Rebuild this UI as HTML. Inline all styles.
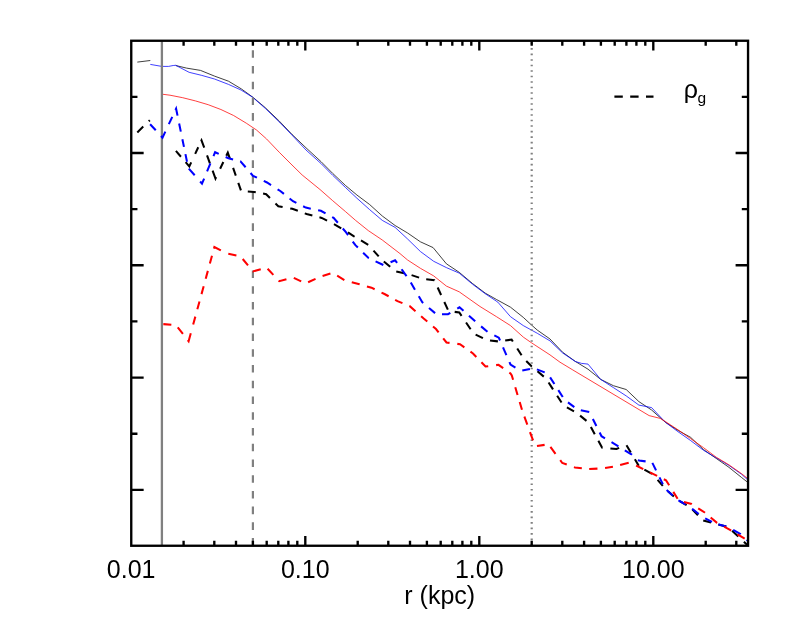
<!DOCTYPE html>
<html><head><meta charset="utf-8"><title>plot</title>
<style>
html,body{margin:0;padding:0;background:#fff;}
body{width:786px;height:629px;overflow:hidden;}
svg{display:block;will-change:transform;}
text{font-family:"Liberation Sans",sans-serif;fill:#000;}
</style></head><body>
<svg width="786" height="629" viewBox="0 0 786 629">
<rect width="786" height="629" fill="#fff"/>
<defs><clipPath id="c"><rect x="131.25" y="40.75" width="616.75" height="504.95000000000005"/></clipPath></defs>
<g fill="none" stroke-linejoin="round" clip-path="url(#c)">
<polyline points="137.3,62.1 150.3,60.5" stroke="#000" stroke-width="0.75"/>
<polyline points="175.7,65.5 186.5,68.1 200.5,70.4 214.5,76.1 228.5,81.2 241.2,88.8 252.7,97.1 265.3,107.7 279.3,121.1 292.0,134.4 306.0,147.8 321.2,161.8 332.7,173.4 345.4,185.4 356.9,195.0 369.6,204.5 382.3,216.0 395.1,225.5 407.6,233.0 420.4,241.8 433.1,247.6 446.4,263.8 459.2,272.3 472.5,283.5 485.2,293.1 496.5,299.5 510.5,307.2 523.3,317.4 531.5,325.0 537.3,330.1 550.0,339.0 562.7,352.3 575.3,361.4 588.0,369.2 600.7,379.4 613.4,385.7 626.2,389.5 638.9,401.6 651.6,410.0 665.3,422.2 678.0,430.4 690.7,437.4 703.4,449.5 716.2,458.4 728.9,467.3 741.6,477.5 748.0,482.6" stroke="#000" stroke-width="0.75"/>
<polyline points="150.3,64.4 161.8,66.4 168.6,66.4 173.2,65.5 175.7,65.3 189.1,72.3 201.8,75.4 214.5,79.0 228.5,84.4 241.2,90.1 252.7,97.3 265.3,108.4 279.3,122.0 292.0,135.1 306.0,150.0 321.2,163.7 332.7,175.3 345.4,187.4 356.9,198.2 369.6,209.6 382.3,220.4 395.1,227.4 407.6,239.0 420.4,251.5 433.7,261.3 446.4,267.6 459.2,273.1 472.5,284.2 485.2,293.7 497.8,302.1 510.5,316.7 523.3,325.6 531.5,330.1 537.3,333.3 550.0,340.9 562.7,353.0 575.3,361.5 581.6,363.4 588.0,364.1 600.7,379.4 613.4,387.6 626.2,395.9 638.9,405.1 651.6,407.6 665.3,422.2 678.0,431.7 690.7,440.6 703.4,450.2 716.2,457.8 728.9,465.4 741.6,474.3 748.0,480.1" stroke="#00f" stroke-width="0.75"/>
<polyline points="163.0,94.3 170.0,95.2 182.7,97.7 195.4,100.9 208.2,104.7 220.9,109.5 233.6,115.5 246.3,123.2 256.5,130.0 266.5,138.9 279.3,152.3 292.0,165.0 302.2,175.0 320.0,189.5 332.7,200.7 345.4,211.5 355.6,220.4 368.3,230.6 382.3,240.0 400.0,253.6 407.6,260.0 420.4,268.3 433.7,275.9 446.4,286.1 459.2,291.8 480.0,306.5 496.5,316.7 510.5,325.6 523.3,337.1 531.5,342.8 550.0,354.9 560.0,362.2 572.9,370.0 649.1,415.6 660.2,418.4 665.3,421.5 678.0,429.8 690.7,438.7 703.4,447.6 716.2,457.2 728.9,464.8 741.6,473.7 748.0,478.8" stroke="#f00" stroke-width="0.75"/>
</g>
<line x1="161.9" y1="40.75" x2="161.9" y2="545.7" stroke="#808080" stroke-width="2.3"/>
<line x1="252.9" y1="545.7" x2="252.9" y2="40.75" stroke="#808080" stroke-width="2.2" stroke-dasharray="7.6 8.14"/>
<line x1="531.7" y1="545.7" x2="531.7" y2="40.75" stroke="#808080" stroke-width="2.2" stroke-dasharray="1.6 3.911"/>
<g fill="none" stroke-linejoin="miter" clip-path="url(#c)">
<polyline points="137.30,132.40 149.80,120.20" stroke="#000" stroke-width="2.05" stroke-dasharray="8.30 7.70"/>
<polyline points="175.90,150.90 185.60,162.12" stroke="#000" stroke-width="2.05" stroke-dasharray="7.70 7.14"/>
<polyline points="185.60,162.12 189.30,166.40 195.18,153.81" stroke="#000" stroke-width="2.05" stroke-dasharray="10.14 9.41"/>
<polyline points="195.18,153.81 201.10,141.15" stroke="#000" stroke-width="2.05" stroke-dasharray="7.25 6.73"/>
<polyline points="201.10,141.15 201.50,140.30 207.04,155.42" stroke="#000" stroke-width="2.05" stroke-dasharray="8.84 8.20"/>
<polyline points="207.04,155.42 212.60,170.60" stroke="#000" stroke-width="2.05" stroke-dasharray="8.39 7.78"/>
<polyline points="212.60,170.60 215.50,178.50 220.13,168.74" stroke="#000" stroke-width="2.05" stroke-dasharray="9.97 9.25"/>
<polyline points="220.13,168.74 226.30,155.76" stroke="#000" stroke-width="2.05" stroke-dasharray="7.45 6.92"/>
<polyline points="226.30,155.76 227.80,152.60 233.11,167.88" stroke="#000" stroke-width="2.05" stroke-dasharray="10.21 9.47"/>
<polyline points="233.11,167.88 238.30,182.86" stroke="#000" stroke-width="2.05" stroke-dasharray="8.22 7.63"/>
<polyline points="238.30,182.86 241.20,191.20 247.79,191.56" stroke="#000" stroke-width="2.05" stroke-dasharray="8.01 7.43"/>
<polyline points="247.79,191.56 254.10,191.90 263.08,193.61" stroke="#000" stroke-width="2.05" stroke-dasharray="8.02 7.44"/>
<polyline points="263.08,193.61 266.20,194.20 275.49,203.41" stroke="#000" stroke-width="2.05" stroke-dasharray="8.43 7.82"/>
<polyline points="275.49,203.41 278.30,206.20 290.23,208.42" stroke="#000" stroke-width="2.05" stroke-dasharray="8.35 7.75"/>
<polyline points="290.23,208.42 292.30,208.80 304.79,213.34" stroke="#000" stroke-width="2.05" stroke-dasharray="7.98 7.40"/>
<polyline points="304.79,213.34 306.60,214.00 319.45,217.32" stroke="#000" stroke-width="2.05" stroke-dasharray="7.88 7.31"/>
<polyline points="319.45,217.32 321.70,217.90 333.96,224.18" stroke="#000" stroke-width="2.05" stroke-dasharray="8.35 7.75"/>
<polyline points="333.96,224.18 334.00,224.20 346.00,231.20 347.95,232.44" stroke="#000" stroke-width="2.05" stroke-dasharray="8.43 7.82"/>
<polyline points="347.95,232.44 354.00,236.30 360.99,240.49" stroke="#000" stroke-width="2.05" stroke-dasharray="7.95 7.38"/>
<polyline points="360.99,240.49 368.50,245.00 373.51,250.59" stroke="#000" stroke-width="2.05" stroke-dasharray="8.44 7.83"/>
<polyline points="373.51,250.59 381.50,259.50 383.82,261.44" stroke="#000" stroke-width="2.05" stroke-dasharray="7.78 7.21"/>
<polyline points="383.82,261.44 395.50,271.20 396.28,271.39" stroke="#000" stroke-width="2.05" stroke-dasharray="8.31 7.71"/>
<polyline points="396.28,271.39 410.50,274.80 411.58,275.15" stroke="#000" stroke-width="2.05" stroke-dasharray="8.18 7.59"/>
<polyline points="411.58,275.15 423.40,279.00 426.22,279.34" stroke="#000" stroke-width="2.05" stroke-dasharray="7.92 7.35"/>
<polyline points="426.22,279.34 434.30,280.30 437.65,287.55" stroke="#000" stroke-width="2.05" stroke-dasharray="8.36 7.76"/>
<polyline points="437.65,287.55 444.32,301.97" stroke="#000" stroke-width="2.05" stroke-dasharray="8.25 7.65"/>
<polyline points="444.32,301.97 448.50,311.00 454.68,311.86" stroke="#000" stroke-width="2.05" stroke-dasharray="8.40 7.79"/>
<polyline points="454.68,311.86 459.30,312.50 466.07,322.51" stroke="#000" stroke-width="2.05" stroke-dasharray="8.69 8.06"/>
<polyline points="466.07,322.51 473.50,333.50 475.62,334.55" stroke="#000" stroke-width="2.05" stroke-dasharray="8.11 7.52"/>
<polyline points="475.62,334.55 487.00,340.20 490.02,340.53" stroke="#000" stroke-width="2.05" stroke-dasharray="8.16 7.57"/>
<polyline points="490.02,340.53 499.00,341.50 505.18,340.57" stroke="#000" stroke-width="2.05" stroke-dasharray="7.93 7.36"/>
<polyline points="505.18,340.57 511.60,339.60 517.24,348.46" stroke="#000" stroke-width="2.05" stroke-dasharray="8.82 8.18"/>
<polyline points="517.24,348.46 523.50,358.30 526.25,361.05" stroke="#000" stroke-width="2.05" stroke-dasharray="8.06 7.48"/>
<polyline points="526.25,361.05 531.50,366.30 537.47,371.32" stroke="#000" stroke-width="2.05" stroke-dasharray="7.90 7.33"/>
<polyline points="537.47,371.32 546.00,378.50 548.58,382.47" stroke="#000" stroke-width="2.05" stroke-dasharray="8.24 7.64"/>
<polyline points="548.58,382.47 557.15,395.70" stroke="#000" stroke-width="2.05" stroke-dasharray="8.18 7.59"/>
<polyline points="557.15,395.70 563.50,405.50 566.92,407.39" stroke="#000" stroke-width="2.05" stroke-dasharray="8.08 7.50"/>
<polyline points="566.92,407.39 576.50,412.70 580.11,415.65" stroke="#000" stroke-width="2.05" stroke-dasharray="8.10 7.51"/>
<polyline points="580.11,415.65 588.50,422.50 590.88,426.93" stroke="#000" stroke-width="2.05" stroke-dasharray="8.23 7.64"/>
<polyline points="590.88,426.93 598.37,440.85" stroke="#000" stroke-width="2.05" stroke-dasharray="8.20 7.60"/>
<polyline points="598.37,440.85 602.00,447.60 610.38,448.41" stroke="#000" stroke-width="2.05" stroke-dasharray="8.34 7.74"/>
<polyline points="610.38,448.41 616.50,449.00 626.20,444.80 626.50,445.30" stroke="#000" stroke-width="2.05" stroke-dasharray="8.98 8.33"/>
<polyline points="626.50,445.30 634.86,459.26" stroke="#000" stroke-width="2.05" stroke-dasharray="8.44 7.83"/>
<polyline points="634.86,459.26 639.50,467.00 644.38,469.71" stroke="#000" stroke-width="2.05" stroke-dasharray="7.58 7.03"/>
<polyline points="644.38,469.71 653.00,474.50 657.60,479.87" stroke="#000" stroke-width="2.05" stroke-dasharray="8.78 8.15"/>
<polyline points="657.60,479.87 665.00,488.50 677.00,499.50 690.00,507.00 702.80,520.30 703.24,520.42" stroke="#000" stroke-width="2.05" stroke-dasharray="7.98 7.41"/>
<polyline points="703.24,520.42 715.00,523.60 728.00,527.00 732.11,530.78" stroke="#000" stroke-width="2.05" stroke-dasharray="8.09 7.51"/>
<polyline points="732.11,530.78 740.50,538.50 743.91,541.77" stroke="#000" stroke-width="2.05" stroke-dasharray="8.37 7.76"/>
<polyline points="743.91,541.77 748.00,545.70" stroke="#000" stroke-width="2.05" stroke-dasharray="8.30 7.70"/>
<polyline points="150.10,124.20 161.01,135.99" stroke="#00f" stroke-width="2.05" stroke-dasharray="8.33 7.73"/>
<polyline points="161.01,135.99 162.50,137.60 168.82,124.16" stroke="#00f" stroke-width="2.05" stroke-dasharray="8.84 8.20"/>
<polyline points="168.82,124.16 175.47,110.03" stroke="#00f" stroke-width="2.05" stroke-dasharray="8.10 7.52"/>
<polyline points="175.47,110.03 176.10,108.70 179.13,123.43" stroke="#00f" stroke-width="2.05" stroke-dasharray="8.57 7.95"/>
<polyline points="179.13,123.43 182.37,139.19" stroke="#00f" stroke-width="2.05" stroke-dasharray="8.34 7.74"/>
<polyline points="182.37,139.19 185.44,154.09" stroke="#00f" stroke-width="2.05" stroke-dasharray="7.89 7.32"/>
<polyline points="185.44,154.09 188.30,168.00 188.81,168.59" stroke="#00f" stroke-width="2.05" stroke-dasharray="7.77 7.21"/>
<polyline points="188.81,168.59 200.15,181.49" stroke="#00f" stroke-width="2.05" stroke-dasharray="8.91 8.27"/>
<polyline points="200.15,181.49 202.00,183.60 207.07,171.45" stroke="#00f" stroke-width="2.05" stroke-dasharray="8.28 7.68"/>
<polyline points="207.07,171.45 213.50,156.04" stroke="#00f" stroke-width="2.05" stroke-dasharray="8.66 8.04"/>
<polyline points="213.50,156.04 215.10,152.20 225.64,157.00" stroke="#00f" stroke-width="2.05" stroke-dasharray="8.17 7.57"/>
<polyline points="225.64,157.00 228.50,158.30 240.17,161.22" stroke="#00f" stroke-width="2.05" stroke-dasharray="7.87 7.30"/>
<polyline points="240.17,161.22 240.50,161.30 250.56,172.97" stroke="#00f" stroke-width="2.05" stroke-dasharray="8.17 7.58"/>
<polyline points="250.56,172.97 253.00,175.80 263.77,180.95" stroke="#00f" stroke-width="2.05" stroke-dasharray="8.13 7.54"/>
<polyline points="263.77,180.95 267.00,182.50 277.59,189.27" stroke="#00f" stroke-width="2.05" stroke-dasharray="8.38 7.77"/>
<polyline points="277.59,189.27 280.30,191.00 289.61,198.48" stroke="#00f" stroke-width="2.05" stroke-dasharray="7.86 7.30"/>
<polyline points="289.61,198.48 293.00,201.20 303.12,206.26" stroke="#00f" stroke-width="2.05" stroke-dasharray="8.12 7.53"/>
<polyline points="303.12,206.26 305.80,207.60 318.13,210.21" stroke="#00f" stroke-width="2.05" stroke-dasharray="8.09 7.51"/>
<polyline points="318.13,210.21 320.90,210.80 332.13,217.08" stroke="#00f" stroke-width="2.05" stroke-dasharray="8.14 7.56"/>
<polyline points="332.13,217.08 333.60,217.90 342.78,228.49" stroke="#00f" stroke-width="2.05" stroke-dasharray="8.14 7.55"/>
<polyline points="342.78,228.49 345.90,232.10 352.74,241.53" stroke="#00f" stroke-width="2.05" stroke-dasharray="8.52 7.90"/>
<polyline points="352.74,241.53 355.40,245.20 363.14,252.76" stroke="#00f" stroke-width="2.05" stroke-dasharray="7.97 7.39"/>
<polyline points="363.14,252.76 368.50,258.00 375.57,261.33" stroke="#00f" stroke-width="2.05" stroke-dasharray="7.94 7.37"/>
<polyline points="375.57,261.33 384.00,265.30 390.55,262.29" stroke="#00f" stroke-width="2.05" stroke-dasharray="8.57 7.95"/>
<polyline points="390.55,262.29 395.10,260.20 401.61,269.25" stroke="#00f" stroke-width="2.05" stroke-dasharray="8.38 7.77"/>
<polyline points="401.61,269.25 409.00,279.50 410.80,282.58" stroke="#00f" stroke-width="2.05" stroke-dasharray="8.41 7.80"/>
<polyline points="410.80,282.58 418.79,296.24" stroke="#00f" stroke-width="2.05" stroke-dasharray="8.21 7.61"/>
<polyline points="418.79,296.24 422.40,302.40 429.00,307.97" stroke="#00f" stroke-width="2.05" stroke-dasharray="8.18 7.59"/>
<polyline points="429.00,307.97 436.50,314.30 442.00,314.25" stroke="#00f" stroke-width="2.05" stroke-dasharray="7.95 7.37"/>
<polyline points="442.00,314.25 448.00,314.20 457.26,308.64" stroke="#00f" stroke-width="2.05" stroke-dasharray="8.72 8.09"/>
<polyline points="457.26,308.64 459.50,307.30 468.97,315.75" stroke="#00f" stroke-width="2.05" stroke-dasharray="7.94 7.36"/>
<polyline points="468.97,315.75 475.40,321.50 481.10,326.35" stroke="#00f" stroke-width="2.05" stroke-dasharray="8.36 7.75"/>
<polyline points="481.10,326.35 487.50,331.80 494.32,335.36" stroke="#00f" stroke-width="2.05" stroke-dasharray="8.35 7.75"/>
<polyline points="494.32,335.36 498.80,337.70 503.04,347.42" stroke="#00f" stroke-width="2.05" stroke-dasharray="8.12 7.53"/>
<polyline points="503.04,347.42 509.45,362.10" stroke="#00f" stroke-width="2.05" stroke-dasharray="8.31 7.71"/>
<polyline points="509.45,362.10 510.50,364.50 520.50,370.80 522.26,370.47" stroke="#00f" stroke-width="2.05" stroke-dasharray="8.42 7.81"/>
<polyline points="522.26,370.47 534.00,368.30 536.89,369.41" stroke="#00f" stroke-width="2.05" stroke-dasharray="7.80 7.24"/>
<polyline points="536.89,369.41 547.60,373.50 550.12,377.41" stroke="#00f" stroke-width="2.05" stroke-dasharray="8.36 7.76"/>
<polyline points="550.12,377.41 558.31,390.13" stroke="#00f" stroke-width="2.05" stroke-dasharray="7.85 7.28"/>
<polyline points="558.31,390.13 564.60,399.90 567.98,402.41" stroke="#00f" stroke-width="2.05" stroke-dasharray="8.21 7.62"/>
<polyline points="567.98,402.41 577.40,409.40 580.81,410.15" stroke="#00f" stroke-width="2.05" stroke-dasharray="7.89 7.32"/>
<polyline points="580.81,410.15 589.30,412.00 592.86,419.06" stroke="#00f" stroke-width="2.05" stroke-dasharray="8.61 7.99"/>
<polyline points="592.86,419.06 599.65,432.52" stroke="#00f" stroke-width="2.05" stroke-dasharray="7.82 7.25"/>
<polyline points="599.65,432.52 601.50,436.20 611.52,442.24" stroke="#00f" stroke-width="2.05" stroke-dasharray="8.20 7.61"/>
<polyline points="611.52,442.24 624.82,450.27" stroke="#00f" stroke-width="2.05" stroke-dasharray="8.06 7.48"/>
<polyline points="624.82,450.27 631.00,454.00 638.12,459.78" stroke="#00f" stroke-width="2.05" stroke-dasharray="8.50 7.89"/>
<polyline points="638.12,459.78 639.00,460.50 652.00,462.20 652.36,462.92" stroke="#00f" stroke-width="2.05" stroke-dasharray="7.81 7.24"/>
<polyline points="652.36,462.92 659.49,477.35" stroke="#00f" stroke-width="2.05" stroke-dasharray="8.35 7.75"/>
<polyline points="659.49,477.35 665.00,488.50 666.66,490.02" stroke="#00f" stroke-width="2.05" stroke-dasharray="7.62 7.07"/>
<polyline points="666.66,490.02 677.00,499.50 678.44,500.33" stroke="#00f" stroke-width="2.05" stroke-dasharray="8.14 7.55"/>
<polyline points="678.44,500.33 690.00,507.00 692.10,508.68" stroke="#00f" stroke-width="2.05" stroke-dasharray="8.32 7.72"/>
<polyline points="692.10,508.68 702.50,517.00 705.16,518.38" stroke="#00f" stroke-width="2.05" stroke-dasharray="8.46 7.85"/>
<polyline points="705.16,518.38 715.00,523.50 718.55,524.40" stroke="#00f" stroke-width="2.05" stroke-dasharray="7.66 7.10"/>
<polyline points="718.55,524.40 728.00,526.80 733.16,529.77" stroke="#00f" stroke-width="2.05" stroke-dasharray="8.15 7.56"/>
<polyline points="733.16,529.77 740.50,534.00 746.65,539.74" stroke="#00f" stroke-width="2.05" stroke-dasharray="8.76 8.13"/>
<polyline points="746.65,539.74 748.00,541.00" stroke="#00f" stroke-width="2.05" stroke-dasharray="8.30 7.70"/>
<polyline points="163.00,324.10 163.31,324.13" stroke="#f00" stroke-width="2.05" stroke-dasharray="8.30 7.70" stroke-dashoffset="15.69"/>
<polyline points="163.31,324.13 176.00,325.20 177.75,327.42" stroke="#f00" stroke-width="2.05" stroke-dasharray="8.07 7.49"/>
<polyline points="177.75,327.42 187.71,340.07" stroke="#f00" stroke-width="2.05" stroke-dasharray="8.35 7.75"/>
<polyline points="187.71,340.07 188.60,341.20 193.18,324.49" stroke="#f00" stroke-width="2.05" stroke-dasharray="9.73 9.03"/>
<polyline points="193.18,324.49 197.33,309.34" stroke="#f00" stroke-width="2.05" stroke-dasharray="8.15 7.56"/>
<polyline points="197.33,309.34 201.50,294.11" stroke="#f00" stroke-width="2.05" stroke-dasharray="8.19 7.60"/>
<polyline points="201.50,294.11 205.70,278.78" stroke="#f00" stroke-width="2.05" stroke-dasharray="8.24 7.65"/>
<polyline points="205.70,278.78 209.86,263.58" stroke="#f00" stroke-width="2.05" stroke-dasharray="8.18 7.58"/>
<polyline points="209.86,263.58 213.96,248.62" stroke="#f00" stroke-width="2.05" stroke-dasharray="8.05 7.47"/>
<polyline points="213.96,248.62 214.40,247.00 227.50,253.70 228.31,253.86" stroke="#f00" stroke-width="2.05" stroke-dasharray="8.93 8.28"/>
<polyline points="228.31,253.86 240.50,256.30 242.72,258.98" stroke="#f00" stroke-width="2.05" stroke-dasharray="8.26 7.66"/>
<polyline points="242.72,258.98 252.91,271.29" stroke="#f00" stroke-width="2.05" stroke-dasharray="8.29 7.69"/>
<polyline points="252.91,271.29 253.00,271.40 266.50,267.50 267.61,268.69" stroke="#f00" stroke-width="2.05" stroke-dasharray="8.21 7.62"/>
<polyline points="267.61,268.69 278.68,280.54" stroke="#f00" stroke-width="2.05" stroke-dasharray="8.41 7.80"/>
<polyline points="278.68,280.54 279.30,281.20 293.00,277.50 293.80,277.89" stroke="#f00" stroke-width="2.05" stroke-dasharray="8.29 7.69"/>
<polyline points="293.80,277.89 305.50,283.50 308.09,282.30" stroke="#f00" stroke-width="2.05" stroke-dasharray="8.21 7.62"/>
<polyline points="308.09,282.30 319.50,277.00 322.57,276.03" stroke="#f00" stroke-width="2.05" stroke-dasharray="8.20 7.61"/>
<polyline points="322.57,276.03 332.50,272.90 337.18,275.74" stroke="#f00" stroke-width="2.05" stroke-dasharray="8.24 7.64"/>
<polyline points="337.18,275.74 345.50,280.80 351.77,282.34" stroke="#f00" stroke-width="2.05" stroke-dasharray="8.40 7.79"/>
<polyline points="351.77,282.34 358.50,284.00 366.93,286.40" stroke="#f00" stroke-width="2.05" stroke-dasharray="8.14 7.56"/>
<polyline points="366.93,286.40 371.50,287.70 381.52,292.56" stroke="#f00" stroke-width="2.05" stroke-dasharray="8.24 7.65"/>
<polyline points="381.52,292.56 384.50,294.00 395.15,299.81" stroke="#f00" stroke-width="2.05" stroke-dasharray="8.01 7.43"/>
<polyline points="395.15,299.81 397.50,301.10 409.33,306.01" stroke="#f00" stroke-width="2.05" stroke-dasharray="8.04 7.45"/>
<polyline points="409.33,306.01 409.80,306.20 423.40,318.30 436.00,329.00 443.21,338.27" stroke="#f00" stroke-width="2.05" stroke-dasharray="8.12 7.54"/>
<polyline points="443.21,338.27 446.50,342.50 457.30,343.86" stroke="#f00" stroke-width="2.05" stroke-dasharray="8.43 7.82"/>
<polyline points="457.30,343.86 460.00,344.20 470.47,351.69" stroke="#f00" stroke-width="2.05" stroke-dasharray="8.08 7.50"/>
<polyline points="470.47,351.69 473.00,353.50 481.43,362.27" stroke="#f00" stroke-width="2.05" stroke-dasharray="7.93 7.35"/>
<polyline points="481.43,362.27 485.50,366.50 496.13,365.11" stroke="#f00" stroke-width="2.05" stroke-dasharray="8.60 7.98"/>
<polyline points="496.13,365.11 498.50,364.80 509.33,372.65" stroke="#f00" stroke-width="2.05" stroke-dasharray="8.18 7.59"/>
<polyline points="509.33,372.65 510.50,373.50 511.80,375.50 515.28,387.22" stroke="#f00" stroke-width="2.05" stroke-dasharray="8.33 7.72"/>
<polyline points="515.28,387.22 519.70,402.08" stroke="#f00" stroke-width="2.05" stroke-dasharray="8.04 7.46"/>
<polyline points="519.70,402.08 522.50,411.50 524.40,416.72" stroke="#f00" stroke-width="2.05" stroke-dasharray="7.98 7.40"/>
<polyline points="524.40,416.72 530.00,432.05" stroke="#f00" stroke-width="2.05" stroke-dasharray="8.47 7.85"/>
<polyline points="530.00,432.05 535.20,446.30 536.99,446.03" stroke="#f00" stroke-width="2.05" stroke-dasharray="8.81 8.17"/>
<polyline points="536.99,446.03 548.50,444.30 550.43,446.92" stroke="#f00" stroke-width="2.05" stroke-dasharray="7.73 7.17"/>
<polyline points="550.43,446.92 560.21,460.17" stroke="#f00" stroke-width="2.05" stroke-dasharray="8.54 7.92"/>
<polyline points="560.21,460.17 562.30,463.00 573.96,467.13" stroke="#f00" stroke-width="2.05" stroke-dasharray="8.24 7.65"/>
<polyline points="573.96,467.13 575.00,467.50 589.00,469.00 589.20,468.99" stroke="#f00" stroke-width="2.05" stroke-dasharray="7.98 7.40"/>
<polyline points="589.20,468.99 602.00,468.40 605.07,467.92" stroke="#f00" stroke-width="2.05" stroke-dasharray="8.26 7.66"/>
<polyline points="605.07,467.92 616.00,466.20 620.15,465.10" stroke="#f00" stroke-width="2.05" stroke-dasharray="7.96 7.39"/>
<polyline points="620.15,465.10 630.00,462.50 636.13,465.53" stroke="#f00" stroke-width="2.05" stroke-dasharray="8.84 8.20"/>
<polyline points="636.13,465.53 649.88,472.33" stroke="#f00" stroke-width="2.05" stroke-dasharray="7.96 7.38"/>
<polyline points="649.88,472.33 663.83,479.23" stroke="#f00" stroke-width="2.05" stroke-dasharray="8.07 7.49"/>
<polyline points="663.83,479.23 666.00,480.30 673.30,491.88" stroke="#f00" stroke-width="2.05" stroke-dasharray="8.36 7.75"/>
<polyline points="673.30,491.88 678.80,500.60 683.93,501.96" stroke="#f00" stroke-width="2.05" stroke-dasharray="8.10 7.51"/>
<polyline points="683.93,501.96 691.60,504.00 698.21,508.29" stroke="#f00" stroke-width="2.05" stroke-dasharray="8.20 7.61"/>
<polyline points="698.21,508.29 704.70,512.50 710.68,517.51" stroke="#f00" stroke-width="2.05" stroke-dasharray="8.06 7.48"/>
<polyline points="710.68,517.51 717.00,522.80 724.10,526.69" stroke="#f00" stroke-width="2.05" stroke-dasharray="8.48 7.86"/>
<polyline points="724.10,526.69 730.50,530.20 737.52,534.33" stroke="#f00" stroke-width="2.05" stroke-dasharray="8.02 7.44"/>
<polyline points="737.52,534.33 748.00,540.50" stroke="#f00" stroke-width="2.05" stroke-dasharray="8.30 7.70"/>
</g>
<rect x="131.25" y="40.75" width="616.8" height="505.0" fill="none" stroke="#000" stroke-width="2.35"/>
<path d="M183.6 545.7 v-4.9 M183.6 40.75 v4.9 M214.3 545.7 v-4.9 M214.3 40.75 v4.9 M236.0 545.7 v-4.9 M236.0 40.75 v4.9 M252.9 545.7 v-4.9 M252.9 40.75 v4.9 M266.7 545.7 v-4.9 M266.7 40.75 v4.9 M278.3 545.7 v-4.9 M278.3 40.75 v4.9 M288.4 545.7 v-4.9 M288.4 40.75 v4.9 M297.3 545.7 v-4.9 M297.3 40.75 v4.9 M305.3 545.7 v-9.8 M305.3 40.75 v9.8 M357.7 545.7 v-4.9 M357.7 40.75 v4.9 M388.3 545.7 v-4.9 M388.3 40.75 v4.9 M410.0 545.7 v-4.9 M410.0 40.75 v4.9 M426.9 545.7 v-4.9 M426.9 40.75 v4.9 M440.7 545.7 v-4.9 M440.7 40.75 v4.9 M452.3 545.7 v-4.9 M452.3 40.75 v4.9 M462.4 545.7 v-4.9 M462.4 40.75 v4.9 M471.3 545.7 v-4.9 M471.3 40.75 v4.9 M479.3 545.7 v-9.8 M479.3 40.75 v9.8 M531.7 545.7 v-4.9 M531.7 40.75 v4.9 M562.3 545.7 v-4.9 M562.3 40.75 v4.9 M584.1 545.7 v-4.9 M584.1 40.75 v4.9 M600.9 545.7 v-4.9 M600.9 40.75 v4.9 M614.7 545.7 v-4.9 M614.7 40.75 v4.9 M626.4 545.7 v-4.9 M626.4 40.75 v4.9 M636.4 545.7 v-4.9 M636.4 40.75 v4.9 M645.3 545.7 v-4.9 M645.3 40.75 v4.9 M653.3 545.7 v-9.8 M653.3 40.75 v9.8 M705.7 545.7 v-4.9 M705.7 40.75 v4.9 M736.3 545.7 v-4.9 M736.3 40.75 v4.9 M131.25 152.95 h12.4 M748.0 152.95 h-12.4 M131.25 265.25 h12.4 M748.0 265.25 h-12.4 M131.25 377.55 h12.4 M748.0 377.55 h-12.4 M131.25 489.85 h12.4 M748.0 489.85 h-12.4 M131.25 96.8 h6.2 M748.0 96.8 h-6.2 M131.25 209.1 h6.2 M748.0 209.1 h-6.2 M131.25 321.4 h6.2 M748.0 321.4 h-6.2 M131.25 433.7 h6.2 M748.0 433.7 h-6.2" stroke="#000" stroke-width="2.35" fill="none"/>
<text x="131.2" y="577.9" font-size="25" text-anchor="middle">0.01</text>
<text x="305.3" y="577.9" font-size="25" text-anchor="middle">0.10</text>
<text x="479.3" y="577.9" font-size="25" text-anchor="middle">1.00</text>
<text x="653.3" y="577.9" font-size="25" text-anchor="middle">10.00</text>
<text x="439.7" y="603.6" font-size="25" text-anchor="middle">r (kpc)</text>
<line x1="614.4" y1="96.7" x2="653.5" y2="96.7" stroke="#000" stroke-width="2.3" stroke-dasharray="8.4 7.4"/>
<text x="683.8" y="97.6" font-size="25">&#961;</text>
<text x="697.5" y="103.1" font-size="15.5">g</text>
</svg>
</body></html>
